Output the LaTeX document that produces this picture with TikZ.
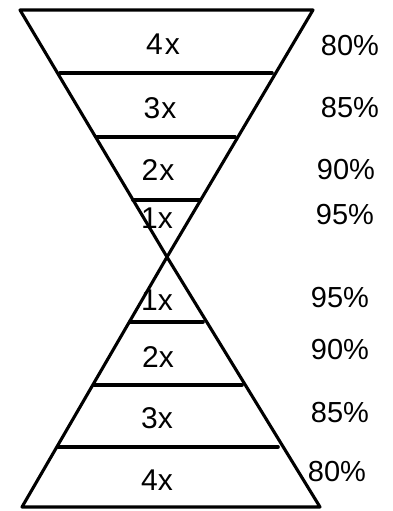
\documentclass[tikz,border=0pt]{standalone}
\usepackage{fontspec}
\setmainfont{Liberation Sans}
\begin{document}
\begin{tikzpicture}[x=1pt,y=-1pt,
  edge/.style={line width=3.1pt, line join=round, line cap=round},
  band/.style={line width=3.6pt, line cap=round},
  lbl/.style={font=\fontsize{30}{32}\selectfont, inner sep=0pt},
  pct/.style={font=\fontsize{29}{31}\selectfont, inner sep=0pt}]
\useasboundingbox (0,0) rectangle (392,511);
% top triangle
\coordinate (TL) at (20,10);
\coordinate (TR) at (313,10);
\coordinate (M) at (167,257);
% bottom triangle
\coordinate (BL) at (22,507);
\coordinate (BR) at (320,507);
\draw[edge] (TL) -- (TR) -- (M) -- cycle;
\draw[edge] (M) -- (BR) -- (BL) -- cycle;
% top bands
\draw[band] (60,73) -- (272,73);
\draw[band] (97,137) -- (235,137);
\draw[band] (133,200) -- (200,200);
% bottom bands
\draw[band] (130,322) -- (203,322);
\draw[band] (94,385) -- (242,385);
\draw[band] (58,447) -- (278,447);
% labels top
\node[lbl] (t4) at (163,44) {4\kern2pt x};
\node[lbl] (t3) at (160,108) {3\kern1pt x};
\node[lbl] (t2) at (158,170) {2\kern1pt x};
\node[lbl] (t1) at (157,218) {1x};
% labels bottom
\node[lbl] (b1) at (157,300) {1x};
\node[lbl] (b2) at (158,357) {2x};
\node[lbl] (b3) at (157,418) {3x};
\node[lbl] (b4) at (157,480) {4x};
% percentages
\node[pct] (p1) at (350,46) {80\%};
\node[pct] (p2) at (350,108) {85\%};
\node[pct] (p3) at (346,170) {90\%};
\node[pct] (p4) at (345,215) {95\%};
\node[pct] (p5) at (340,298) {95\%};
\node[pct] (p6) at (340,350) {90\%};
\node[pct] (p7) at (340,413) {85\%};
\node[pct] (p8) at (337,472) {80\%};
\end{tikzpicture}
\end{document}
